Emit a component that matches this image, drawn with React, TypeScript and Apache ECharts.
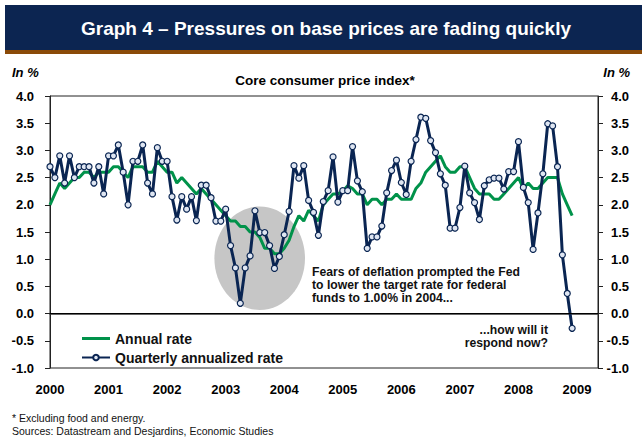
import React, { useEffect, useRef } from 'react';
import * as echarts from 'echarts';

const years = ['2000', '2001', '2002', '2003', '2004', '2005', '2006', '2007', '2008', '2009'];

// Monthly, Jan 2000 - Dec 2008
const annualRate = [
  2.0, 2.2, 2.4, 2.3, 2.4, 2.5, 2.5, 2.6, 2.6, 2.5, 2.6, 2.6,
  2.6, 2.7, 2.7, 2.6, 2.5, 2.7, 2.7, 2.7, 2.6, 2.6, 2.8, 2.7,
  2.6, 2.6, 2.4, 2.5, 2.4, 2.3, 2.2, 2.3, 2.2, 2.1, 2.0, 1.9,
  1.8, 1.7, 1.7, 1.6, 1.6, 1.5, 1.5, 1.4, 1.2, 1.2, 1.1, 1.1,
  1.2, 1.35, 1.6, 1.8, 1.7, 1.9, 1.8, 1.7, 2.0, 2.1, 2.2, 2.2,
  2.25, 2.35, 2.3, 2.2, 2.2, 2.0, 2.1, 2.1, 2.0, 2.1, 2.1, 2.2,
  2.1, 2.1, 2.1, 2.3, 2.4, 2.6, 2.7, 2.8, 2.9, 2.7, 2.6, 2.6,
  2.7, 2.7, 2.5, 2.3, 2.2, 2.2, 2.2, 2.1, 2.1, 2.2, 2.3, 2.4,
  2.5, 2.3, 2.4, 2.3, 2.3, 2.4, 2.5, 2.5, 2.5, 2.2, 2.0, 1.8,
];

const quarterlyRate = [
  2.7, 2.5, 2.9, 2.4, 2.9, 2.5, 2.7, 2.7, 2.7, 2.4, 2.7, 2.2,
  2.9, 2.9, 3.1, 2.6, 2.0, 2.8, 2.8, 3.1, 2.4, 2.2, 3.05, 2.8,
  2.8, 2.15, 1.72, 2.15, 1.92, 2.15, 1.71, 2.36, 2.36, 2.13, 1.7, 1.7,
  1.92, 1.25, 0.84, 0.19, 0.84, 1.06, 1.89, 1.49, 1.49, 1.25, 0.83, 1.05,
  1.45, 1.88, 2.72, 2.49, 2.72, 2.08, 1.86, 1.44, 2.06, 2.26, 2.88, 2.05,
  2.26, 2.26, 3.07, 2.44, 2.24, 1.2, 1.41, 1.41, 1.61, 2.22, 2.63, 2.82,
  2.41, 2.19, 2.8, 3.2, 3.61, 3.59, 3.18, 2.96, 2.57, 2.36, 1.57, 1.57,
  1.95, 2.71, 2.22, 2.04, 1.73, 2.35, 2.46, 2.49, 2.49, 2.29, 2.61, 2.61,
  3.16, 2.32, 2.04, 1.18, 1.85, 2.57, 3.49, 3.45, 2.7, 1.08, 0.37, -0.27,
];

const seriesNames = ['Annual rate', 'Quarterly annualized rate'];

const FONT = '"Liberation Sans", Arial, Helvetica, sans-serif';
const NAVY = '#0a2552';
const GREEN = '#00924a';

export default function App() {
  const ref = useRef<HTMLDivElement>(null);

  useEffect(() => {
    const chart = echarts.init(ref.current as HTMLDivElement, null, { renderer: 'svg' });
    const annualData = annualRate.map((v, i) => [i, v]);
    const quarterlyData = quarterlyRate.map((v, i) => [i, v]);

    const yAxisBase = {
      type: 'value',
      min: -1,
      max: 4,
      interval: 0.5,
      axisLine: { show: true, lineStyle: { color: '#222', width: 1 } },
      axisTick: { show: true, inside: false, length: 5, lineStyle: { color: '#222' } },
      splitLine: { show: false },
    };

    chart.setOption({
      animation: false,
      backgroundColor: '#ffffff',
      grid: {
        left: 50,
        right: 44,
        top: 96,
        bottom: 72,
        show: true,
        borderColor: '#222',
        borderWidth: 1,
      },
      xAxis: {
        type: 'value',
        min: 0,
        max: 112.3,
        interval: 12,
        axisLine: { show: true, lineStyle: { color: '#333', width: 1.5 } },
        axisTick: { show: false },
        splitLine: { show: false },
        axisLabel: {
          showMaxLabel: false,
          margin: 15,
          color: '#000',
          fontFamily: FONT,
          fontWeight: 'bold',
          fontSize: 13,
          formatter: (v: number) => {
            const k = Math.round(v / 12);
            return Math.abs(v - k * 12) < 1e-6 && k < years.length ? years[k] : '';
          },
        },
      },
      yAxis: [
        {
          ...yAxisBase,
          position: 'left',
          axisLabel: {
            margin: 16,
            color: '#000',
            fontFamily: FONT,
            fontWeight: 'bold',
            fontSize: 13,
            formatter: (v: number) => v.toFixed(1),
          },
        },
        {
          ...yAxisBase,
          position: 'right',
          axisLabel: {
            margin: 31,
            align: 'right',
            color: '#000',
            fontFamily: FONT,
            fontWeight: 'bold',
            fontSize: 13,
            formatter: (v: number) => v.toFixed(1),
          },
        },
      ],
      legend: {
        data: [
          { name: seriesNames[0], icon: 'path://M0 0H28V3H0Z' },
          { name: seriesNames[1] },
        ],
        orient: 'vertical',
        left: 76,
        top: 326,
        itemWidth: 28,
        itemHeight: 7,
        itemGap: 4,
        selectedMode: false,
        textStyle: {
          fontFamily: FONT,
          fontWeight: 'bold',
          fontSize: 14,
          color: '#111',
          lineHeight: 15,
        },
      },
      graphic: [
        { type: 'rect', shape: { x: 5, y: 5, width: 637, height: 45 }, style: { fill: '#0c2551' }, z: 10 },
        { type: 'rect', shape: { x: 5, y: 50, width: 637, height: 4 }, style: { fill: '#8a4a08' }, z: 10 },
        {
          type: 'text', x: 326, y: 28, z: 11,
          style: {
            text: 'Graph 4 – Pressures on base prices are fading quickly',
            fill: '#ffffff', font: `bold 19px ${FONT}`, textAlign: 'center', textVerticalAlign: 'middle',
          },
        },
        {
          type: 'text', x: 12, y: 72,
          style: { text: 'In %', fill: '#000', font: `italic bold 13px ${FONT}`, textAlign: 'left', textVerticalAlign: 'middle' },
        },
        {
          type: 'text', x: 630, y: 72,
          style: { text: 'In %', fill: '#000', font: `italic bold 13px ${FONT}`, textAlign: 'right', textVerticalAlign: 'middle' },
        },
        {
          type: 'text', x: 325, y: 80,
          style: { text: 'Core consumer price index*', fill: '#000', font: `bold 13.5px ${FONT}`, textAlign: 'center', textVerticalAlign: 'middle' },
        },
        {
          type: 'ellipse', z: -1,
          shape: { cx: 259.7, cy: 258.3, rx: 45.3, ry: 51.7 },
          style: { fill: '#c6c6c6' },
        },
        {
          type: 'text', x: 312, y: 265,
          style: {
            text: 'Fears of deflation prompted the Fed\nto lower the target rate for federal\nfunds to 1.00% in 2004...',
            fill: '#111', font: `bold 12.2px ${FONT}`, lineHeight: 13.2, textAlign: 'left', textVerticalAlign: 'top',
          },
        },
        {
          type: 'text', x: 548, y: 323.5,
          style: {
            text: '...how will it\nrespond now?',
            fill: '#111', font: `bold 12.2px ${FONT}`, lineHeight: 13.2, textAlign: 'right', textVerticalAlign: 'top',
          },
        },
        {
          type: 'text', x: 12, y: 418,
          style: { text: '* Excluding food and energy.', fill: '#111', font: `10.5px ${FONT}`, textAlign: 'left', textVerticalAlign: 'middle' },
        },
        {
          type: 'text', x: 12, y: 431,
          style: { text: 'Sources: Datastream and Desjardins, Economic Studies', fill: '#111', font: `10.5px ${FONT}`, textAlign: 'left', textVerticalAlign: 'middle' },
        },
      ],
      series: [
        {
          name: seriesNames[0],
          type: 'line',
          data: annualData,
          showSymbol: false,
          symbol: 'none',
          lineStyle: { color: GREEN, width: 3 },
          itemStyle: { color: GREEN },
          z: 3,
          markLine: {
            silent: true,
            symbol: 'none',
            label: { show: false },
            lineStyle: { color: '#000', width: 1, type: 'solid' },
            data: [{ yAxis: 0 }],
          },
        },
        {
          name: seriesNames[1],
          type: 'line',
          data: quarterlyData,
          symbol: 'circle',
          symbolSize: 6,
          showSymbol: true,
          lineStyle: { color: NAVY, width: 3 },
          itemStyle: { color: '#dfe6f2', borderColor: NAVY, borderWidth: 1.2 },
          z: 4,
        },
      ],
    });

    return () => chart.dispose();
  }, []);

  return (
    <div
      ref={ref}
      style={{ position: 'absolute', left: 0, top: 0, width: 642, height: 440, background: '#fff' }}
    />
  );
}
